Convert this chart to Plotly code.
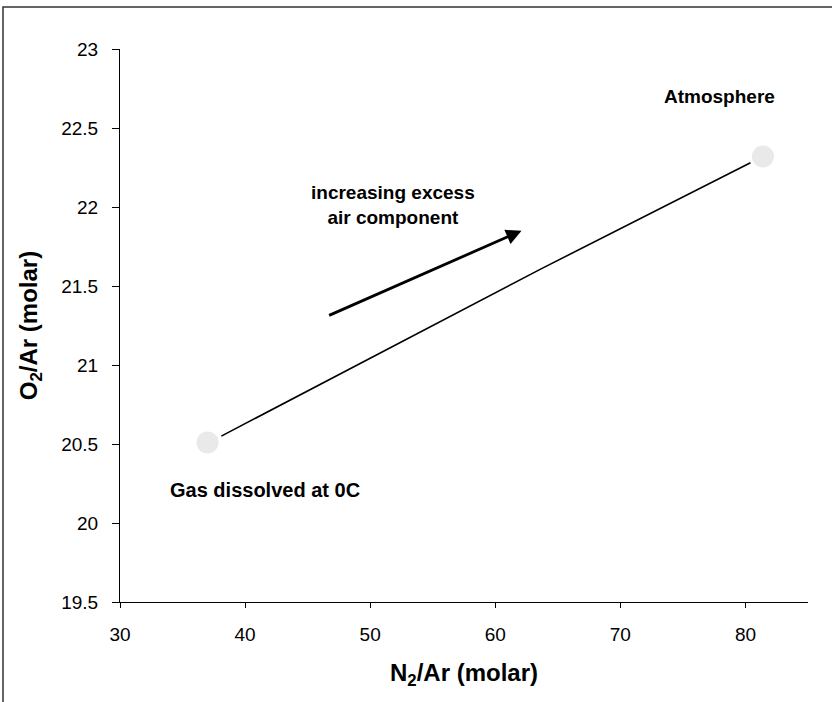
import plotly.graph_objects as go

# Mixing line between solubility end-member and atmosphere
n2_ar_line = [38.1, 54.5, 63.7, 80.4]
o2_ar_line = [20.55, 21.23, 21.61, 22.28]

# End-member points
end_labels = ["Gas dissolved at 0C", "Atmosphere"]
n2_ar_end = [37.0, 81.4]
o2_ar_end = [20.51, 22.32]

x_ticks = [30, 40, 50, 60, 70, 80]
y_ticks = [19.5, 20, 20.5, 21, 21.5, 22, 22.5, 23]

FONT = "Liberation Sans, Arial, sans-serif"

fig = go.Figure()
fig.add_trace(go.Scatter(
    x=n2_ar_end, y=o2_ar_end, mode="markers",
    marker=dict(size=22, color="#c8c8c8", opacity=0.4, line=dict(width=0)),
    hoverinfo="skip", showlegend=False))
fig.add_trace(go.Scatter(
    x=n2_ar_line, y=o2_ar_line, mode="lines",
    line=dict(color="black", width=1.6), showlegend=False))

fig.add_annotation(x=77.9, y=22.70, text="<b>Atmosphere</b>", showarrow=False,
                   font=dict(family=FONT, size=19, color="black"))
fig.add_annotation(x=41.6, y=20.21, text="<b>Gas dissolved at 0C</b>", showarrow=False,
                   font=dict(family=FONT, size=20, color="black"))
fig.add_annotation(x=51.8, y=22.01, text="<b>increasing excess<br>air component</b>",
                   showarrow=False, font=dict(family=FONT, size=19, color="black"))
fig.add_annotation(x=62.1, y=21.85, ax=46.6, ay=21.31, xref="x", yref="y",
                   axref="x", ayref="y", text="", showarrow=True,
                   arrowhead=2, arrowsize=1.1, arrowwidth=2.8, arrowcolor="black")

# figure border (left and top edges visible)
fig.add_shape(type="rect", xref="paper", yref="paper",
              x0=-117/688, x1=(836-120)/688, y0=-(708-602)/553, y1=(602-7)/553,
              line=dict(color="#333333", width=1.5), fillcolor="rgba(0,0,0,0)")

fig.update_layout(
    width=832, height=702,
    margin=dict(l=120, r=24, t=49, b=100),
    paper_bgcolor="white", plot_bgcolor="white",
    font=dict(family=FONT, size=19, color="black"),
    showlegend=False,
)
fig.update_xaxes(
    range=[30, 85], tickvals=x_ticks, ticks="outside", ticklen=5, tickcolor="black",
    showline=True, linecolor="black", linewidth=1, showgrid=False, zeroline=False,
    tickfont=dict(size=19), ticklabelstandoff=10,
    title=dict(text="<b>N<sub>2</sub>/Ar (molar)</b>", font=dict(size=24), standoff=20),
)
fig.update_yaxes(
    range=[19.5, 23], tickvals=y_ticks, ticks="outside", ticklen=7, tickcolor="black",
    showline=True, linecolor="black", linewidth=1, showgrid=False, zeroline=False,
    tickfont=dict(size=19), ticklabelstandoff=10,
    title=dict(text="<b>O<sub>2</sub>/Ar (molar)</b>", font=dict(size=24), standoff=16),
)

fig.write_html("out.html")
